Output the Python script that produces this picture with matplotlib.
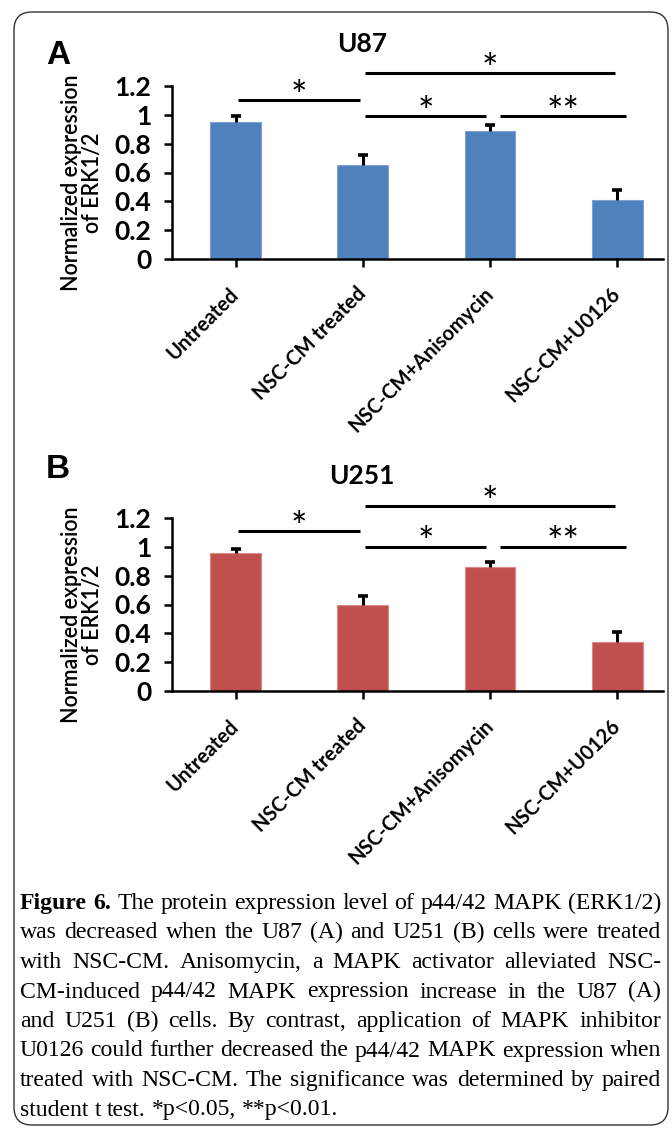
import matplotlib.pyplot as plt
from matplotlib.patches import FancyBboxPatch

plt.rcParams["font.family"] = ["Lato", "DejaVu Sans"]

categories = ["Untreated", "NSC-CM treated", "NSC-CM+Anisomycin", "NSC-CM+U0126"]
u87_mean = [0.95, 0.65, 0.89, 0.41]
u87_err = [0.04, 0.07, 0.04, 0.07]
u251_mean = [0.96, 0.60, 0.86, 0.34]
u251_err = [0.025, 0.06, 0.035, 0.07]

# significance brackets (from bar, to bar, height, mark)
sig_from = [0.02, 1.02, 2.08, 1.02]
sig_to = [0.98, 1.97, 3.07, 2.98]
sig_u87 = [1.10, 0.99, 0.99, 1.29]
sig_u251 = [1.11, 1.00, 1.00, 1.28]
sig_marks = ["*", "*", "**", "*"]

caption = [
    "Figure 6. The protein expression level of p44/42 MAPK (ERK1/2)",
    "was decreased when the U87 (A) and U251 (B) cells were treated",
    "with NSC-CM. Anisomycin, a MAPK activator alleviated NSC-",
    "CM-induced p44/42 MAPK expression increase in the U87 (A)",
    "and U251 (B) cells. By contrast, application of MAPK inhibitor",
    "U0126 could further decreased the p44/42 MAPK expression when",
    "treated with NSC-CM. The significance was determined by paired",
    "student t test. *p<0.05, **p<0.01.",
]

W, H = 672, 1128
fig = plt.figure(figsize=(W / 100, H / 100), dpi=100)
bg = fig.add_axes([0, 0, 1, 1], zorder=0)
bg.set_xlim(0, W)
bg.set_ylim(H, 0)
bg.axis("off")
bg.add_patch(FancyBboxPatch((14, 12), 654, 1113, boxstyle="round,pad=0,rounding_size=18",
                            fc="white", ec="#333333", lw=1))


def panel(y0, mean, err, color, edge, title, letter, levels):
    y12 = y0 - 173
    ax = fig.add_axes([172 / W, 1 - y0 / H, (663 - 172) / W, (y0 - y12) / H], zorder=1)
    ax.patch.set_alpha(0)
    x = list(range(len(categories)))
    ax.bar(x, mean, width=0.4, color=color, edgecolor=edge, lw=0.8, zorder=2)
    tops = [m + e for m, e in zip(mean, err)]
    ax.vlines(x, mean, tops, color="black", lw=2.2, zorder=3)
    ax.plot(x, tops, ls="none", marker="_", ms=7, mew=2.6, color="black", zorder=3)
    ax.set_xlim(-0.5, 3.36)
    ax.set_ylim(0, 1.2)
    for s in ["top", "right"]:
        ax.spines[s].set_visible(False)
    for s in ["left", "bottom"]:
        ax.spines[s].set_linewidth(1.8)
    ax.set_yticks([0, 0.2, 0.4, 0.6, 0.8, 1.0, 1.2])
    ax.set_yticklabels(["0", "0.2", "0.4", "0.6", "0.8", "1", "1.2"], fontsize=19, fontweight="bold")
    ax.set_xticks(x)
    ax.set_xticklabels(categories, rotation=45, ha="right", va="center", rotation_mode="anchor",
                       fontsize=14.5, fontweight="bold")
    ax.tick_params(axis="y", length=6, width=1.8, pad=9)
    ax.tick_params(axis="x", length=6, width=1.8, pad=17)
    for a, b, lv, m in zip(sig_from, sig_to, levels, sig_marks):
        ax.plot([a, b], [lv, lv], color="black", lw=2.2, clip_on=False, solid_capstyle="butt")
        ax.text((a + b) / 2, lv - 0.06, m, ha="center", va="baseline", fontsize=28,
                clip_on=False)
    bg.text(362, y0 - 215, title, ha="center", va="center", fontsize=19, fontweight="bold")
    bg.text(58, y0 - 203 if letter == "A" else y0 - 221, letter, ha="center", va="center",
            fontsize=24, fontweight="bold", family="Liberation Sans")
    bg.text(82, y0 - 76, "Normalized expression\nof ERK1/2", rotation=90, ha="center", va="center",
            multialignment="center", fontsize=15.5, fontweight="semibold", linespacing=1.05)
    return ax


panel(259, u87_mean, u87_err, "#4F81BD", "#7EA3D3", "U87", "A", sig_u87)
panel(691, u251_mean, u251_err, "#C0504D", "#D98A88", "U251", "B", sig_u251)

# justified caption: size the font so the widest full line just fits
renderer = fig.canvas.get_renderer()
x_left, x_right = 20, 661
widest = 0
for line in caption[:-1]:
    t = bg.text(0, 0, line, family="Liberation Serif", fontsize=10)
    widest = max(widest, t.get_window_extent(renderer).width)
    t.remove()
cap_size = 10 * (x_right - x_left) / widest
cap_font = dict(family="Liberation Serif", fontsize=cap_size)
for i, line in enumerate(caption):
    yb = 909 + i * 29.5
    words = line.split(" ")
    items = []
    for j, w in enumerate(words):
        bold = i == 0 and j < 2
        t = bg.text(0, yb, w, va="baseline", ha="left", fontweight="bold" if bold else "normal", **cap_font)
        items.append((t, t.get_window_extent(renderer).width))
    total = sum(wd for _, wd in items)
    if i == len(caption) - 1:
        gap = cap_size * 0.35
    else:
        gap = (x_right - x_left - total) / (len(items) - 1)
    xpos = x_left
    for t, wd in items:
        t.set_x(xpos)
        xpos += wd + gap

fig.savefig("out.png", dpi=100)
